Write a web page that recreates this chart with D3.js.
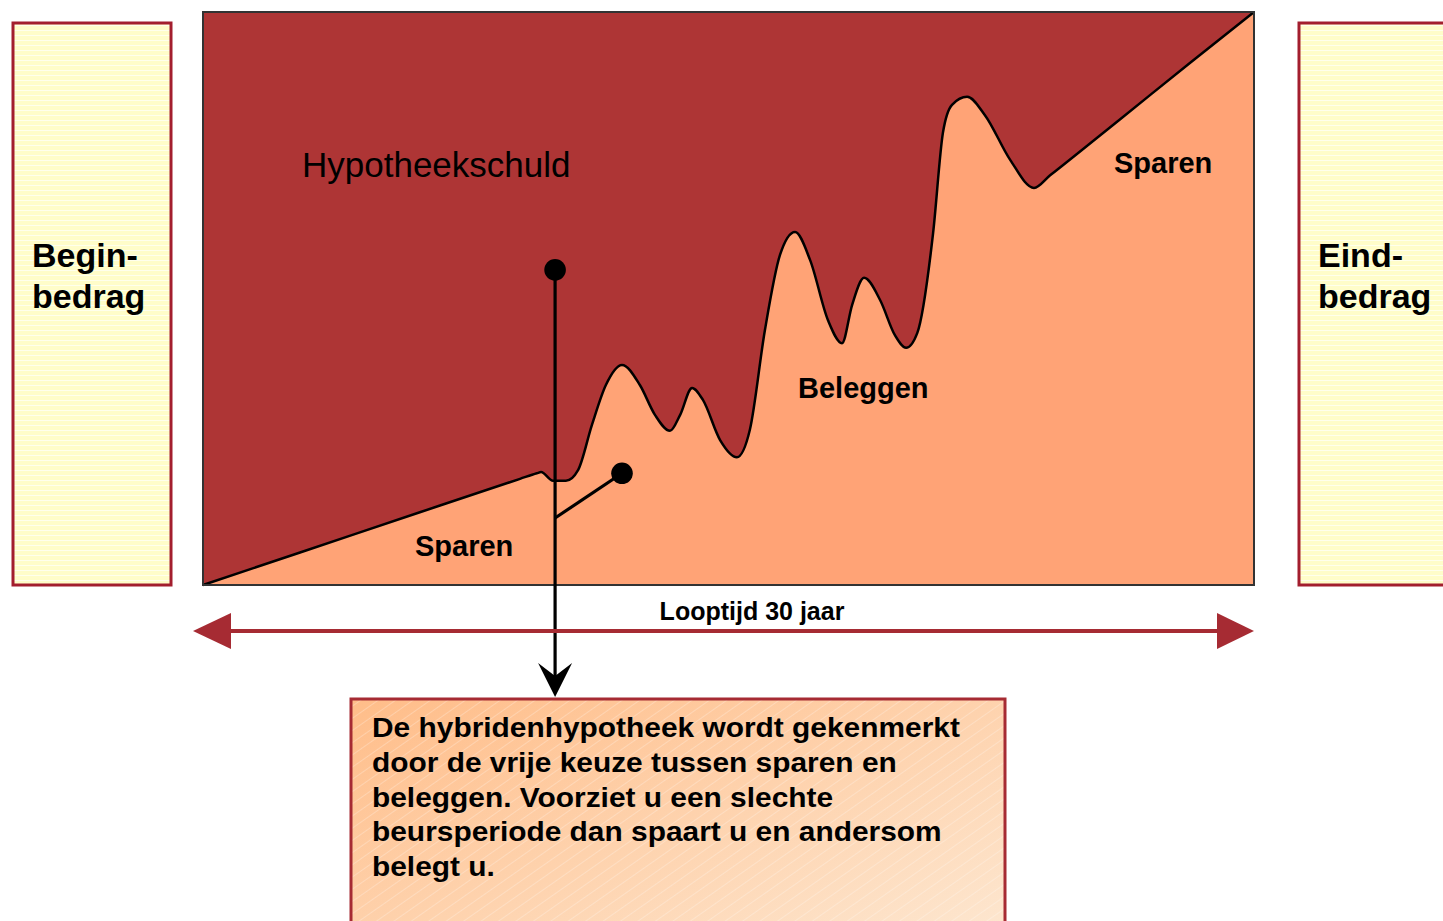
<!DOCTYPE html>
<html>
<head>
<meta charset="utf-8">
<script src="https://cdn.jsdelivr.net/npm/d3@7/dist/d3.min.js"></script>
<style>
  body { margin: 0; background: #fff; }
  svg { display: block; font-family: "Liberation Sans", Arial, Helvetica, sans-serif; }
</style>
</head>
<body>
<div id="chart"></div>
<script>
// data: path of the savings / investment value over the 30 year term
const years  = [0, 2.77, 6.19, 9.05, 9.53, 9.65, 9.99, 10.36, 10.71, 11.10, 11.50, 11.96, 12.47, 12.90,
                13.33, 13.62, 13.96, 14.27, 14.76, 15.24, 15.61, 16.04, 16.47, 16.90, 17.33, 17.84, 18.24,
                18.53, 18.87, 19.33, 19.75, 20.07, 20.39, 20.84, 21.12, 21.38, 21.81, 22.32, 23.04, 23.72,
                24.18, 26.18, 28.17, 30]
const values = [0, 5.67, 12.69, 18.53, 19.5, 19.7, 18.2, 18.2, 20.1, 27.9, 34.9, 38.4, 34.9, 29.7,
                26.9, 29.7, 34.4, 32.3, 25.3, 22.3, 27.1, 44.5, 57.6, 61.6, 56.7, 46.2, 42.2,
                48.9, 53.6, 49.7, 43.6, 41.4, 44.0, 61.4, 78.9, 83.8, 85.2, 82.0, 74.2, 69.3,
                71.5, 81.3, 91.1, 100]

const sideLabels = [["Begin-", "bedrag"], ["Eind-", "bedrag"]]
const areaLabels = ["Hypotheekschuld", "Sparen", "Beleggen", "Sparen"]
const durationLabel = "Looptijd 30 jaar"
const noteLines = [
    "De hybridenhypotheek wordt gekenmerkt",
    "door de vrije keuze tussen sparen en",
    "beleggen. Voorziet u een slechte",
    "beursperiode dan spaart u en andersom",
    "belegt u."
]

const data = years.map((t, i) => ({ t, v: values[i] }))

const W = 1443, H = 921
const red = "#AE3535", orange = "#FFA376", boxRed = "#A31E2E", arrowRed = "#A62B33"

const svg = d3.select("#chart").append("svg")
        .attr("width", W)
        .attr("height", H)

const defs = svg.append("defs")

// faint horizontal stripes of the side boxes
const hp = defs.append("pattern")
        .attr("id", "hstripe")
        .attr("patternUnits", "userSpaceOnUse")
        .attr("width", 8).attr("height", 5)
hp.append("rect").attr("width", 8).attr("height", 5).attr("fill", "#FFFDC9")
hp.append("rect").attr("y", 0).attr("width", 8).attr("height", 1).attr("fill", "#FFFFEC")

// note box gradient + diagonal hatching
const grad = defs.append("linearGradient")
        .attr("id", "noteGrad")
        .attr("x1", 0).attr("y1", 0).attr("x2", 1).attr("y2", 1)
grad.append("stop").attr("offset", 0).attr("stop-color", "#FFBD89")
grad.append("stop").attr("offset", 1).attr("stop-color", "#FDE8D2")

const dp = defs.append("pattern")
        .attr("id", "dstripe")
        .attr("patternUnits", "userSpaceOnUse")
        .attr("width", 10).attr("height", 10)
        .attr("patternTransform", "rotate(-35)")
dp.append("line").attr("x1", 0).attr("x2", 10).attr("y1", 0.5).attr("y2", 0.5)
        .attr("stroke", "#fff").attr("stroke-opacity", 0.25).attr("stroke-width", 1)

// scales
const plot = { left: 203, right: 1254, top: 12, bottom: 585 }
const x = d3.scaleLinear().domain([0, 30]).range([plot.left, plot.right])
const y = d3.scaleLinear().domain([0, 100]).range([plot.bottom, plot.top])

// side boxes
const sideX = [13, 1299]
const sideTextX = [32, 1318]
sideX.forEach((sx, i) => {
    svg.append("rect")
        .attr("x", sx).attr("y", 23)
        .attr("width", 158).attr("height", 562)
        .attr("fill", "url(#hstripe)")
        .attr("stroke", boxRed).attr("stroke-width", 3)
    svg.append("text")
        .attr("x", sideTextX[i]).attr("y", 267)
        .attr("font-size", 34).attr("font-weight", "bold")
        .selectAll("tspan")
        .data(sideLabels[i])
        .join("tspan")
            .attr("x", sideTextX[i])
            .attr("dy", (d, j) => j ? 41 : 0)
            .text(d => d)
})

// chart area: debt background, savings/investment area
svg.append("rect")
    .attr("x", plot.left).attr("y", plot.top)
    .attr("width", plot.right - plot.left).attr("height", plot.bottom - plot.top)
    .attr("fill", red)

const areaGen = d3.area()
    .curve(d3.curveMonotoneX)
    .x(d => x(d.t))
    .y0(y(0))
    .y1(d => y(d.v))

const lineGen = d3.line()
    .curve(d3.curveMonotoneX)
    .x(d => x(d.t))
    .y(d => y(d.v))

svg.append("path")
    .datum(data)
    .attr("d", areaGen)
    .attr("fill", orange)

svg.append("path")
    .datum(data)
    .attr("d", lineGen)
    .attr("fill", "none")
    .attr("stroke", "#000")
    .attr("stroke-width", 2.5)

svg.append("rect")
    .attr("x", plot.left).attr("y", plot.top)
    .attr("width", plot.right - plot.left).attr("height", plot.bottom - plot.top)
    .attr("fill", "none")
    .attr("stroke", "#333").attr("stroke-width", 2)

// area labels
const labelPos = [[302, 177, 35, "normal"], [415, 556, 29, "bold"], [798, 398, 29, "bold"], [1114, 173, 29, "bold"]]
svg.selectAll(".area-label")
    .data(areaLabels)
    .join("text")
        .attr("class", "area-label")
        .attr("x", (d, i) => labelPos[i][0])
        .attr("y", (d, i) => labelPos[i][1])
        .attr("font-size", (d, i) => labelPos[i][2])
        .attr("font-weight", (d, i) => labelPos[i][3])
        .text(d => d)

// pointers from the chart to the note box
const dot1 = { t: 10.05, v: 55.0 }
const dot2 = { t: 11.96, v: 19.5 }
const joinY = 518, tipY = 697

svg.append("line")
    .attr("x1", x(dot1.t)).attr("x2", x(dot1.t))
    .attr("y1", y(dot1.v)).attr("y2", tipY - 18)
    .attr("stroke", "#000").attr("stroke-width", 3.2)
svg.append("line")
    .attr("x1", x(dot2.t)).attr("y1", y(dot2.v))
    .attr("x2", x(dot1.t)).attr("y2", joinY)
    .attr("stroke", "#000").attr("stroke-width", 3.2)
svg.selectAll(".dot")
    .data([dot1, dot2])
    .join("circle")
        .attr("class", "dot")
        .attr("cx", d => x(d.t)).attr("cy", d => y(d.v))
        .attr("r", 10.8)
        .attr("fill", "#000")

const ax = x(dot1.t)
svg.append("path")
    .attr("d", `M${ax},${tipY} L${ax - 17},${tipY - 34} L${ax},${tipY - 21} L${ax + 17},${tipY - 34} Z`)
    .attr("fill", "#000")

// duration double arrow
const arrY = 631
svg.append("line")
    .attr("x1", x(0) + 26).attr("x2", x(30) - 36)
    .attr("y1", arrY).attr("y2", arrY)
    .attr("stroke", arrowRed).attr("stroke-width", 4)
svg.append("path")
    .attr("d", `M${x(0) - 10},${arrY} L${x(0) + 28},${arrY - 18} L${x(0) + 28},${arrY + 18} Z`)
    .attr("fill", arrowRed)
svg.append("path")
    .attr("d", `M${x(30)},${arrY} L${x(30) - 37},${arrY - 18} L${x(30) - 37},${arrY + 18} Z`)
    .attr("fill", arrowRed)
svg.append("text")
    .attr("x", 752).attr("y", 620)
    .attr("text-anchor", "middle")
    .attr("font-size", 25).attr("font-weight", "bold")
    .text(durationLabel)

// note box
svg.append("rect")
    .attr("x", 351).attr("y", 699)
    .attr("width", 654).attr("height", 250)
    .attr("fill", "url(#noteGrad)")
svg.append("rect")
    .attr("x", 351).attr("y", 699)
    .attr("width", 654).attr("height", 250)
    .attr("fill", "url(#dstripe)")
    .attr("stroke", arrowRed).attr("stroke-width", 3)

const note = svg.append("g")
const noteText = note.append("text")
    .attr("font-size", 28).attr("font-weight", "bold")
noteText.selectAll("tspan")
    .data(noteLines)
    .join("tspan")
        .attr("x", 0)
        .attr("y", (d, i) => i * 34.8)
        .text(d => d)
const firstW = noteText.select("tspan").node().getComputedTextLength()
note.attr("transform", `translate(372,737) scale(${588 / firstW},1)`)
</script>
</body>
</html>
